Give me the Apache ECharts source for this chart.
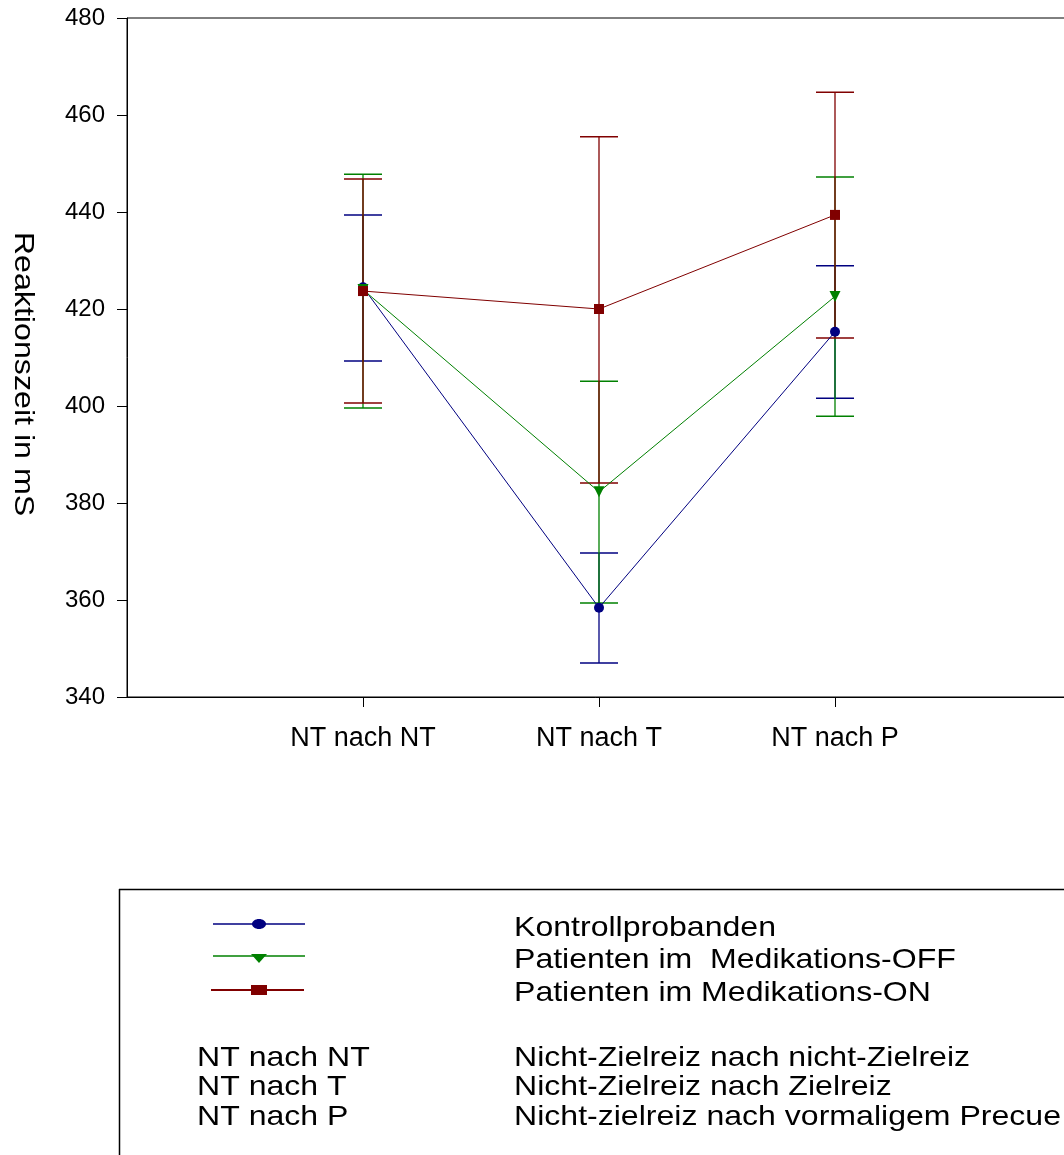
<!DOCTYPE html>
<html>
<head>
<meta charset="utf-8">
<script src="https://cdn.jsdelivr.net/npm/echarts@6/dist/echarts.min.js"></script>
<style>
html,body{margin:0;padding:0;background:#fff;}
#main{width:1064px;height:1155px;}
</style>
</head>
<body>
<div id="main"></div>
<script>
// Kategorien (x-Achse)
var categories = ['NT nach NT', 'NT nach T', 'NT nach P'];
var yTicks = [340, 360, 380, 400, 420, 440, 460, 480];

// Mittelwerte
var kontrollMean = [424.5, 358.4, 415.3];
var offMean = [424.0, 382.3, 422.6];
var onMean = [423.7, 420.0, 439.4];

// Fehlerbalken oben / unten
var kontrollHigh = [439.4, 369.7, 428.9];
var kontrollLow = [409.3, 347.0, 401.6];
var offHigh = [447.8, 405.1, 447.2];
var offLow = [399.6, 359.4, 397.9];
var onHigh = [446.8, 455.5, 464.7];
var onLow = [400.6, 384.1, 414.0];

var seriesNames = ['Kontrollprobanden', 'Patienten im  Medikations-OFF', 'Patienten im Medikations-ON'];
var legendNotes = ['Nicht-Zielreiz nach nicht-Zielreiz', 'Nicht-Zielreiz nach Zielreiz', 'Nicht-zielreiz nach vormaligem Precue'];

var BLUE = '#000080', GREEN = '#008000', RED = '#800000';
var FONT = '"Liberation Sans", Arial, sans-serif';

// x-Achse mit leeren Randplätzen
var axisCats = [''].concat(categories).concat([' ']);

function points(vals) {
    return vals.map(function (v, i) { return [i + 1, v]; });
}
function bars(lo, hi) {
    return lo.map(function (v, i) { return [i + 1, v, hi[i]]; });
}

var errRender = function (color) {
    return function (params, api) {
        var x = api.value(0);
        var top = api.coord([x, api.value(2)]);
        var bot = api.coord([x, api.value(1)]);
        var w = 19;
        return {
            type: 'group',
            children: [
                {type: 'line', shape: {x1: top[0], y1: top[1], x2: bot[0], y2: bot[1]}, style: {stroke: color, lineWidth: 1.3}},
                {type: 'line', shape: {x1: top[0] - w, y1: top[1], x2: top[0] + w, y2: top[1]}, style: {stroke: color, lineWidth: 1.5}},
                {type: 'line', shape: {x1: bot[0] - w, y1: bot[1], x2: bot[0] + w, y2: bot[1]}, style: {stroke: color, lineWidth: 1.5}}
            ]
        };
    };
};

var errSeries = function (lo, hi, color) {
    return {
        type: 'custom',
        z: 1,
        renderItem: errRender(color),
        encode: {x: 0, y: [1, 2]},
        data: bars(lo, hi),
        silent: true
    };
};

var lineSeries = function (name, vals, color, symbol, size, rotate) {
    return {
        name: name,
        type: 'line',
        z: 3,
        data: points(vals),
        symbol: symbol,
        symbolSize: size,
        symbolRotate: rotate || 0,
        showAllSymbol: true,
        lineStyle: {color: color, width: 1},
        itemStyle: {color: color, borderWidth: 0},
        silent: true
    };
};

// Texte im Original leicht in die Breite gezogen
var textEl = function (txt, x, y) {
    return {type: 'text', x: x, y: y, scaleX: 1.145,
        style: {text: txt, font: '28px ' + FONT, fill: '#000', align: 'left', verticalAlign: 'middle'}};
};

// Legende (Kasten unten)
var legendTop = 889;
var graphics = [
    {type: 'line', shape: {x1: 119.5, y1: legendTop, x2: 119.5, y2: 1160}, style: {stroke: '#000', lineWidth: 1.5}},
    {type: 'line', shape: {x1: 119, y1: legendTop + 0.5, x2: 1070, y2: legendTop + 0.5}, style: {stroke: '#000', lineWidth: 1.5}},
    // Symbole
    {type: 'line', shape: {x1: 213, y1: 924, x2: 305, y2: 924}, style: {stroke: BLUE, lineWidth: 1.5}},
    {type: 'ellipse', shape: {cx: 259, cy: 924, rx: 7, ry: 5}, style: {fill: BLUE}},
    {type: 'line', shape: {x1: 213, y1: 956, x2: 305, y2: 956}, style: {stroke: GREEN, lineWidth: 1.5}},
    {type: 'polygon', shape: {points: [[251, 954], [267, 954], [259, 963]]}, style: {fill: GREEN}},
    {type: 'line', shape: {x1: 211, y1: 990, x2: 304, y2: 990}, style: {stroke: RED, lineWidth: 2}},
    {type: 'rect', shape: {x: 251, y: 985, width: 16, height: 10}, style: {fill: RED}},
    // y-Achsentitel
    {type: 'text', x: 23, y: 374, rotation: -Math.PI / 2, scaleX: 1.15,
        style: {text: 'Reaktionszeit in mS', font: '28px ' + FONT, fill: '#000', align: 'center', verticalAlign: 'middle'}}
];
var seriesRowsY = [928, 960, 993];
seriesNames.forEach(function (n, i) {
    graphics.push(textEl(n, 514, seriesRowsY[i]));
});
var noteRowsY = [1058, 1087, 1117];
categories.forEach(function (c, i) {
    graphics.push(textEl(c, 197, noteRowsY[i]));
    graphics.push(textEl(legendNotes[i], 514, noteRowsY[i]));
});

var option = {
    animation: false,
    backgroundColor: '#fff',
    grid: {
        left: 127,
        top: 18,
        width: 944,
        height: 679,
        show: true,
        borderColor: '#000',
        borderWidth: 1,
        containLabel: false,
        outerBoundsMode: 'none'
    },
    xAxis: {
        type: 'category',
        data: axisCats,
        boundaryGap: false,
        axisLine: {lineStyle: {color: '#000', width: 1}},
        axisTick: {
            length: 10,
            interval: function (i) { return i >= 1 && i <= 3; },
            lineStyle: {color: '#000'}
        },
        axisLabel: {
            interval: 0,
            margin: 28,
            color: '#000',
            fontSize: 27,
            fontFamily: FONT
        },
        splitLine: {show: false}
    },
    yAxis: {
        type: 'value',
        min: yTicks[0],
        max: yTicks[yTicks.length - 1],
        interval: 20,
        axisLine: {show: true, lineStyle: {color: '#000', width: 1}},
        axisTick: {show: true, length: 10, lineStyle: {color: '#000'}},
        axisLabel: {margin: 22, color: '#000', fontSize: 24, fontFamily: FONT},
        splitLine: {show: false}
    },
    series: [
        errSeries(kontrollLow, kontrollHigh, BLUE),
        errSeries(offLow, offHigh, GREEN),
        errSeries(onLow, onHigh, RED),
        lineSeries(seriesNames[0], kontrollMean, BLUE, 'circle', 10),
        lineSeries(seriesNames[1], offMean, GREEN, 'triangle', 11, 180),
        lineSeries(seriesNames[2], onMean, RED, 'rect', 10)
    ],
    graphic: graphics
};

var chart = echarts.init(document.getElementById('main'));
chart.setOption(option);
</script>
</body>
</html>
